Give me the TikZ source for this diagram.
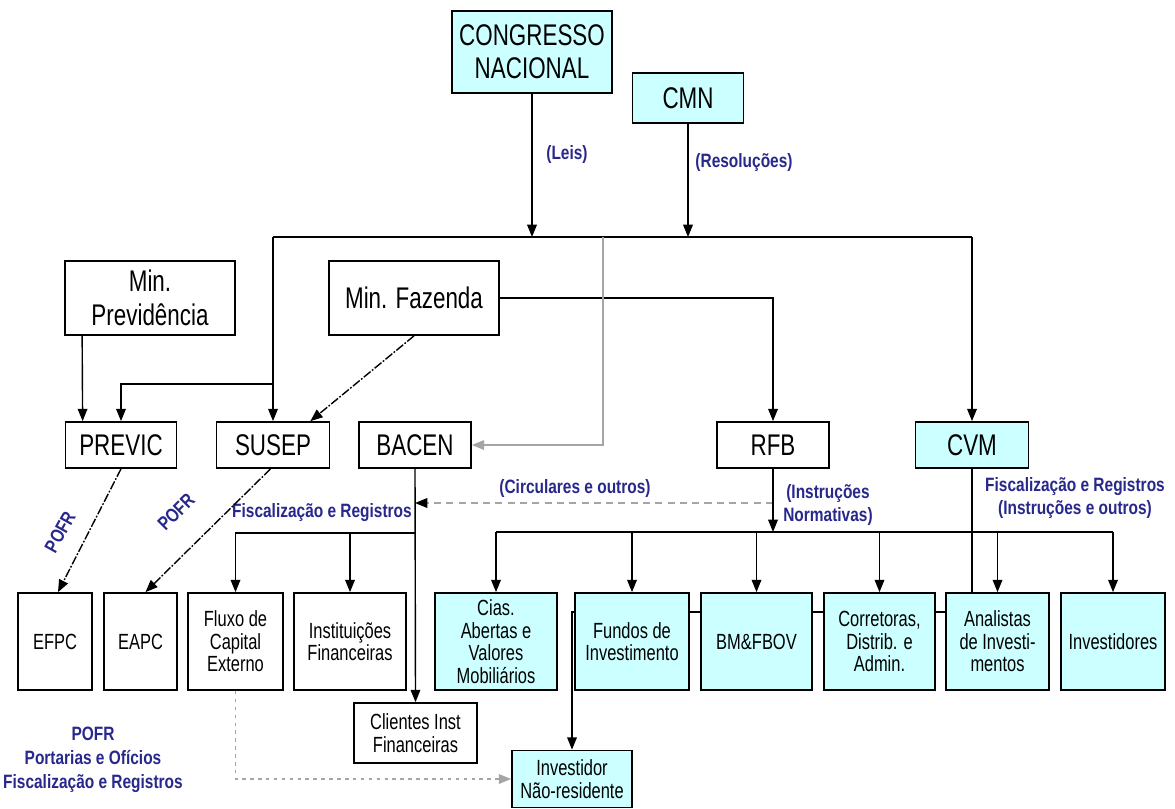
\documentclass[tikz,border=0pt]{standalone}
\usepackage{fontspec}
\setmainfont{Liberation Sans}
\newfontfamily\boxfont{Liberation Sans}[FakeStretch=0.75]
\newfontfamily\lblfont{Liberation Sans}[FakeStretch=0.8]
\usepackage{tikz}
\usetikzlibrary{arrows.meta}

\definecolor{boxcyan}{RGB}{204,255,255}
\definecolor{lblblue}{RGB}{40,40,140}
\definecolor{linegray}{RGB}{165,165,165}

\newcommand{\bigtxt}{\boxfont\fontsize{17}{19}\selectfont}
\newcommand{\smalltxt}{\boxfont\fontsize{12.5}{12.8}\selectfont}
\newcommand{\lbltxt}{\lblfont\bfseries\fontsize{11}{13.5}\selectfont}

\begin{document}
\begin{tikzpicture}[x=0.02cm, y=-0.02cm,
    box/.style={rectangle, draw, line width=1pt, inner sep=1pt, align=center, font=\bigtxt},
    cbox/.style={box, fill=boxcyan},
    lowbox/.style={box, minimum height=1.94cm, font=\smalltxt},
    clowbox/.style={lowbox, fill=boxcyan},
    lbl/.style={text=lblblue, align=center, font=\lbltxt, inner sep=0pt},
    line/.style={line width=0.8pt},
    arr/.style={line, -{Triangle[width=5.5pt,length=7pt]}},
    ddarr/.style={arr, dash pattern=on 5pt off 1pt on 1pt off 1pt},
    grayarr/.style={line, linegray, -{Triangle[width=5.5pt,length=7pt]}},
    circarr/.style={line, linegray, dash pattern=on 4pt off 3pt, -{Triangle[width=5.5pt,length=7pt,color=black]}},
    dotarr/.style={line, linegray, dash pattern=on 2pt off 2.5pt, -{Triangle[width=5.5pt,length=7pt]}}]

\useasboundingbox (0,0) rectangle (1175,808);

% top level
\node[cbox, minimum width=3.2cm, minimum height=1.64cm] (congresso) at (532,52) {CONGRESSO\\NACIONAL};
\node[cbox, minimum width=2.22cm, minimum height=1.0cm] (cmn) at (688,98) {CMN};
\node[lbl] (leis) at (567,155) {(Leis)};
\node[lbl] (resol) at (744,163) {(Resoluções)};

% ministries
\node[box, minimum width=3.4cm, minimum height=1.48cm] (minprev) at (150,298) {Min.\\Previdência};
\node[box, minimum width=3.4cm, minimum height=1.48cm] (minfaz) at (414,298) {Min. Fazenda};

% regulators
\node[box, minimum width=2.22cm, minimum height=0.92cm] (previc) at (121,445) {PREVIC};
\node[box, minimum width=2.26cm, minimum height=0.92cm] (susep) at (273,445) {SUSEP};
\node[box, minimum width=2.24cm, minimum height=0.92cm] (bacen) at (415,445) {BACEN};
\node[box, minimum width=2.24cm, minimum height=0.92cm] (rfb) at (773,445) {RFB};
\node[cbox, minimum width=2.26cm, minimum height=0.92cm] (cvm) at (972,445) {CVM};

% supervised
\node[lowbox, minimum width=1.48cm] (efpc) at (55,641.5) {EFPC};
\node[lowbox, minimum width=1.46cm] (eapc) at (140.5,641.5) {EAPC};
\node[lowbox, minimum width=1.9cm] (fluxo) at (235.5,641.5) {Fluxo de\\Capital\\Externo};
\node[lowbox, minimum width=2.24cm] (inst) at (350,641.5) {Instituições\\Financeiras};
\node[clowbox, minimum width=2.44cm] (cias) at (496,641.5) {Cias.\\Abertas e\\Valores\\Mobiliários};
\node[clowbox, minimum width=2.28cm] (fundos) at (632,641.5) {Fundos de\\Investimento};
\node[clowbox, minimum width=2.22cm] (bm) at (756.5,641.5) {BM\&FBOV};
\node[clowbox, minimum width=2.22cm] (corr) at (879.5,641.5) {Corretoras,\\Distrib. e\\Admin.};
\node[clowbox, minimum width=2.06cm] (anal) at (997.5,641.5) {Analistas\\de Investi-\\mentos};
\node[clowbox, minimum width=2.08cm] (invs) at (1113,641.5) {Investidores};
\node[box, minimum width=2.46cm, minimum height=1.2cm, font=\smalltxt] (clientes) at (415.5,733) {Clientes Inst\\Financeiras};
\node[cbox, minimum width=2.4cm, minimum height=1.14cm, font=\smalltxt] (investidor) at (572,779) {Investidor\\Não-residente};

% labels
\node[lbl] (fiscbacen) at (322,513) {Fiscalização e Registros};
\node[lbl] (circ) at (575,488) {(Circulares e outros)};
\node[lbl] (instnorm) at (828,505) {(Instruções\\Normativas)};
\node[lbl] (fisccvm) at (1075,498) {Fiscalização e Registros\\(Instruções e outros)};
\node[lbl, rotate=61] (pofr1) at (60,532) {POFR};
\node[lbl, rotate=45] (pofr2) at (176,512) {POFR};
\node[lbl] (legenda) at (93,760) {POFR\\Portarias e Ofícios\\Fiscalização e Registros};

% laws and resolutions
\coordinate (busL) at (273,237);
\coordinate (busR) at (972,237);
\coordinate (busG) at (603,237);
\draw[line] (busL) -- (busR);
\draw[arr] (congresso.south) -- (congresso.south |- busL);
\draw[arr] (cmn.south) -- (cmn.south |- busL);
\draw[arr] (busL) -- (susep.north);
\coordinate (brk) at (273,384);
\draw[arr] (brk) -| (previc.north);
\draw[arr] ([xshift=0.36cm]minprev.south west) -- ([xshift=0.36cm]previc.north west);
\draw[arr] (minfaz.east) -| (rfb.north);
\draw[arr] (busR) -- (cvm.north);
\draw[grayarr] (busG) |- (bacen.east);
\draw[ddarr] (minfaz.south) -- ([xshift=-0.4cm]susep.north east);

% POFR
\draw[ddarr] (previc.south) -- ([xshift=0.06cm]efpc.north);
\draw[ddarr] ([xshift=-0.05cm]susep.south) -- ([xshift=0.1cm]eapc.north);

% BACEN
\coordinate (bacenbr) at (415,533);
\draw[arr] (bacen.south) -- (clientes.north);
\draw[arr] (bacenbr) -| (fluxo.north);
\draw[arr] (inst.north |- bacenbr) -- (inst.north);
\coordinate (circR) at (773,503);
\coordinate (circL) at (415,503);
\draw[circarr] (circR) -- (circL);

% RFB and CVM
\coordinate (bus2) at (773,532);
\draw[arr] (rfb.south) -- (bus2);
\draw[line] (cias.north |- bus2) -- (invs.north |- bus2);
\foreach \n in {cias,fundos,bm,corr,anal,invs}
  \draw[arr] (\n.north |- bus2) -- (\n.north);
\draw[line] (cvm.south) -- (cvm.south |- anal.north);
\foreach \a/\b in {fundos/bm,bm/corr,corr/anal}
  \draw[line] ([yshift=0.59cm]\a.east) -- ([yshift=0.59cm]\b.west);
\draw[arr] ([yshift=0.59cm]fundos.west) -| (investidor.north);
\draw[dotarr] (fluxo.south) |- (investidor.west);
\end{tikzpicture}
\end{document}
